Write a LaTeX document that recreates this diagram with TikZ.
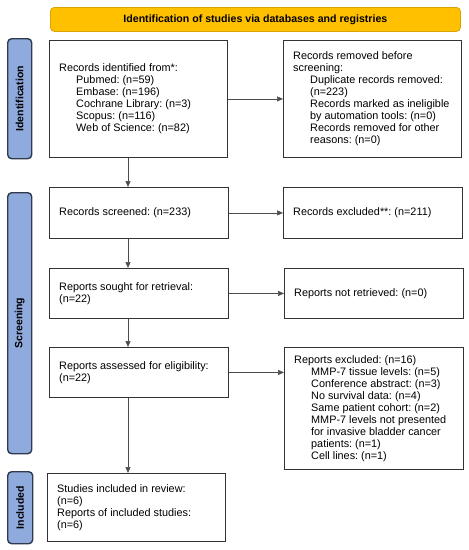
\documentclass[tikz,border=0pt]{standalone}
\usepackage{fontspec}
\setmainfont{Liberation Sans}
\usetikzlibrary{arrows.meta}
\definecolor{hdr}{HTML}{FFC000}
\definecolor{hdrb}{HTML}{D9A300}
\definecolor{side}{HTML}{8FAADC}
\definecolor{sideb}{HTML}{2F3A4E}
\definecolor{boxb}{HTML}{333333}
\tikzset{
  header/.style={draw=hdrb, fill=hdr, rounded corners=4pt, line width=0.8pt, font=\frenchspacing\bfseries\fontsize{10.6}{12}\selectfont, inner sep=0pt},
  sidebar/.style={draw=sideb, fill=side, rounded corners=4pt, line width=1.4pt, inner sep=0pt},
  sidelabel/.style={rotate=90, font=\bfseries\fontsize{10.5}{12}\selectfont},
  flowbox/.style={draw=boxb, line width=0.9pt, inner sep=0pt, anchor=north west},
  boxtext/.style={inner sep=0pt, align=left, anchor=west, xshift=10pt, font=\frenchspacing\fontsize{10.85}{12}\selectfont},
  conn/.style={draw=black!70, line width=0.6pt, -{Triangle[length=6pt,width=5pt]}},
}
\newcommand{\ind}{\hspace*{17pt}}
\begin{document}
\begin{tikzpicture}[x=1pt,y=-1pt]
\useasboundingbox (0,0) rectangle (469,550);
% header
\node[header, minimum width=410pt, minimum height=24pt, anchor=north west] (hdr) at (50,7) {Identification of studies via databases and registries};
% side bars
\node[sidebar, minimum width=24pt, minimum height=120pt, anchor=north west] (sb1) at (7,38) {};
\node[sidelabel] (sl1) at (sb1.center) {Identification};
\node[sidebar, minimum width=24pt, minimum height=261pt, anchor=north west] (sb2) at (7,192) {};
\node[sidelabel] (sl2) at (sb2.center) {Screening};
\node[sidebar, minimum width=25pt, minimum height=72pt, anchor=north west] (sb3) at (7,471) {};
\node[sidelabel] (sl3) at (sb3.center) {Included};
% boxes
\node[flowbox, minimum width=178pt, minimum height=117pt] (b1) at (49,40) {};
\node[boxtext] (t1) at (b1.west) {Records identified from*:\\\ind Pubmed: (n=59)\\\ind Embase: (n=196)\\\ind Cochrane Library: (n=3)\\\ind Scopus: (n=116)\\\ind Web of Science: (n=82)};
\node[flowbox, minimum width=178pt, minimum height=117pt] (b2) at (283,40) {};
\node[boxtext] (t2) at (b2.west) {Records removed before\\screening:\\\ind Duplicate records removed:\\\ind (n=223)\\\ind Records marked as ineligible\\\ind by automation tools: (n=0)\\\ind Records removed for other\\\ind reasons: (n=0)};
\node[flowbox, minimum width=179pt, minimum height=51pt] (b3) at (49,187) {};
\node[boxtext] (t3) at (b3.west) {Records screened: (n=233)};
\node[flowbox, minimum width=179pt, minimum height=51pt] (b4) at (283,187) {};
\node[boxtext] (t4) at (b4.west) {Records excluded**: (n=211)};
\node[flowbox, minimum width=179pt, minimum height=50pt] (b5) at (49,268) {};
\node[boxtext] (t5) at (b5.west) {Reports sought for retrieval:\\(n=22)};
\node[flowbox, minimum width=179pt, minimum height=50pt] (b6) at (284,268) {};
\node[boxtext] (t6) at (b6.west) {Reports not retrieved: (n=0)};
\node[flowbox, minimum width=179pt, minimum height=50pt] (b7) at (49,347) {};
\node[boxtext] (t7) at (b7.west) {Reports assessed for eligibility:\\(n=22)};
\node[flowbox, minimum width=179pt, minimum height=122pt] (b8) at (284,347) {};
\node[boxtext] (t8) at (b8.west) {Reports excluded: (n=16)\\\ind MMP-7 tissue levels: (n=5)\\\ind Conference abstract: (n=3)\\\ind No survival data: (n=4)\\\ind Same patient cohort: (n=2)\\\ind MMP-7 levels not presented\\\ind for invasive bladder cancer\\\ind patients: (n=1)\\\ind Cell lines: (n=1)};
\node[flowbox, minimum width=178pt, minimum height=68pt] (b9) at (47,473) {};
\node[boxtext] (t9) at (b9.west) {Studies included in review:\\(n=6)\\Reports of included studies:\\(n=6)};
% connectors
\draw[conn] (b1.east) -- (b2.west);
\draw[conn] (b3.east) -- (b4.west);
\draw[conn] (b5.east) -- (b6.west);
\draw[conn] (b7.east) -- (b7.east -| b8.west);
\draw[conn] (b1.south -| 128,0) -- (b3.north -| 128,0);
\draw[conn] (b3.south -| 128,0) -- (b5.north -| 128,0);
\draw[conn] (b5.south -| 128,0) -- (b7.north -| 128,0);
\draw[conn] (b7.south -| 128,0) -- (b9.north -| 128,0);
\end{tikzpicture}
\end{document}
